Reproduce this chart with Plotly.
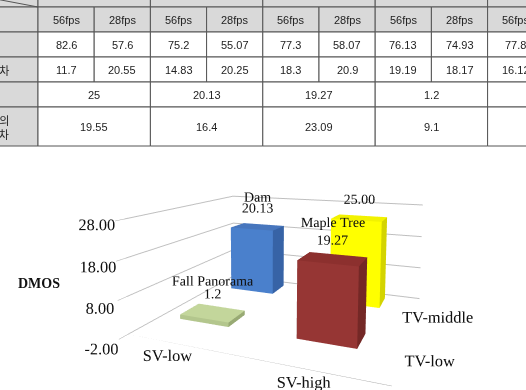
import math
import numpy as np
import plotly.graph_objects as go

# ---------------- data ----------------
fps_labels = ["56fps", "28fps", "56fps", "28fps", "56fps", "28fps", "56fps", "28fps", "56fps"]
mos_values = ["82.6", "57.6", "75.2", "55.07", "77.3", "58.07", "76.13", "74.93", "77.8"]
std_values = ["11.7", "20.55", "14.83", "20.25", "18.3", "20.9", "19.19", "18.17", "16.12"]
dmos_table = ["25", "20.13", "19.27", "1.2", ""]
dmos_std_table = ["19.55", "16.4", "23.09", "9.1", ""]
row_labels = ["", "", "표준편차", "", "DMOS의<br>표준편차"]

videos = ["Sunflower", "Dam", "Maple Tree", "Fall Panorama"]
dmos = [25.00, 20.13, 19.27, 1.2]
dmos_text = ["25.00", "20.13", "19.27", "1.2"]
sv_level = [1, 0, 1, 0]          # 0 = SV-low, 1 = SV-high
tv_level = [1, 1, 0, 0]          # 0 = TV-low, 1 = TV-middle
sv_labels = ["SV-low", "SV-high"]
tv_labels = ["TV-low", "TV-middle"]
z_ticks = [-2, 8, 18, 28]

# ---------------- styles ----------------
bar_colors = {  # front, side, top
    "Sunflower": ("#ffff00", "#d4d400", "#f2f200"),
    "Dam": ("#4a80cc", "#3763a6", "#4776bd"),
    "Maple Tree": ("#963634", "#742826", "#8c302e"),
    "Fall Panorama": ("#b3c68d", "#98aa74", "#c3d69b"),
}
HEADER_BG = "#d9d9d9"
LINE_C = "#555555"
TXT_C = "#222222"
SANS = "Liberation Sans, Arial, sans-serif"
SERIF = "Liberation Serif, Times New Roman, serif"
CJK = "Noto Sans CJK KR, Liberation Sans, sans-serif"

W, H = 526, 390
COLW = 56.2
LEFT = 38.0
TABLE_PX = 150
ROW_EDGES = [-18, 7, 32, 57, 82, 107, 146]

fig = go.Figure()

xr = [-LEFT / COLW, (W - LEFT) / COLW]
fig.update_layout(
    xaxis=dict(domain=[0, 1], range=xr, visible=False, fixedrange=True),
    yaxis=dict(domain=[1 - TABLE_PX / H, 1], range=[TABLE_PX, 0], visible=False, fixedrange=True),
)
shapes = []
annos = []
LABEL_X0 = -2.4


def cell(x0, x1, y0, y1, fill):
    shapes.append(dict(type="rect", xref="x", yref="y", x0=x0, x1=x1, y0=y0, y1=y1,
                       fillcolor=fill, line=dict(color=LINE_C, width=1), layer="below"))


def ctext(xc, yc, t, font=SANS, xanchor="center"):
    annos.append(dict(xref="x", yref="y", x=xc, y=yc, text=t, showarrow=False, xanchor=xanchor,
                      align="center", font=dict(family=font, size=11, color=TXT_C)))


n = len(fps_labels)
ngroups = len(dmos_table)
for r in range(len(ROW_EDGES) - 1):
    cell(LABEL_X0, 0, ROW_EDGES[r], ROW_EDGES[r + 1], HEADER_BG)
for g in range(ngroups):
    cell(2 * g, 2 * g + 2, ROW_EDGES[0], ROW_EDGES[1], HEADER_BG)
for i in range(n):
    cell(i, i + 1, ROW_EDGES[1], ROW_EDGES[2], HEADER_BG)
    ctext(i + 0.5, (ROW_EDGES[1] + ROW_EDGES[2]) / 2, fps_labels[i])
    cell(i, i + 1, ROW_EDGES[2], ROW_EDGES[3], "white")
    ctext(i + 0.5, (ROW_EDGES[2] + ROW_EDGES[3]) / 2, mos_values[i])
    cell(i, i + 1, ROW_EDGES[3], ROW_EDGES[4], "white")
    ctext(i + 0.5, (ROW_EDGES[3] + ROW_EDGES[4]) / 2, std_values[i])
for g in range(ngroups):
    cell(2 * g, 2 * g + 2, ROW_EDGES[4], ROW_EDGES[5], "white")
    ctext(2 * g + 1, (ROW_EDGES[4] + ROW_EDGES[5]) / 2, dmos_table[g])
    cell(2 * g, 2 * g + 2, ROW_EDGES[5], ROW_EDGES[6], "white")
    ctext(2 * g + 1, (ROW_EDGES[5] + ROW_EDGES[6]) / 2, dmos_std_table[g])
LABEL_RIGHT = (11 - LEFT) / COLW
for r, lab in enumerate(row_labels):
    if lab:
        ctext(LABEL_RIGHT, (ROW_EDGES[r + 1] + ROW_EDGES[r + 2]) / 2, lab, CJK, xanchor="right")
shapes.append(dict(type="line", xref="x", yref="y", x0=-2.35, y0=ROW_EDGES[0], x1=0, y1=ROW_EDGES[1],
                   line=dict(color=LINE_C, width=1)))

# ---------------- 3D scene geometry / camera calibration ----------------
ZMIN, ZMAX = z_ticks[0], z_ticks[-1]
XR, YR = (-0.5, 1.5), (-0.5, 1.5)
AX = 0.817
FOCAL = (H / 2) / math.tan(math.pi / 8)   # plotly gl3d uses fovy = 45 deg
PP = (W / 2, H / 2)
# scene anchor points: (x, sign*hw, y, sign*hd, z) -> pixel position they should land on
CAL = [
    ((-0.5, 0, -0.5, 0, -2), (128, 336)), ((-0.5, 0, -0.5, 0, 28), (128, 223)),
    ((1.5, 0, -0.5, 0, -2), (383, 372)), ((1.5, 0, 1.5, 0, -2), (430, 288)),
    ((1.5, 0, 1.5, 0, 28), (430, 199)), ((-0.5, 0, 1.5, 0, 28), (228, 192)),
    ((1, -1, 0, -1, dmos[2]), (298, 265)), ((1, -1, 0, -1, 0), (298, 339)), ((1, 1, 0, -1, 0), (353, 346)),
    ((0, -1, 1, -1, dmos[1]), (230, 228)), ((0, 1, 1, -1, dmos[1]), (272, 230)), ((0, -1, 1, -1, 0), (230, 293)),
    ((1, -1, 1, -1, dmos[0]), (335, 218)), ((1, 1, 1, -1, dmos[0]), (383, 220)),
    ((0, -1, 0, -1, dmos[3]), (180, 327)), ((0, 1, 0, -1, dmos[3]), (233, 331)), ((0, -1, 0, 1, dmos[3]), (190, 309)),
]
cal_src = np.array([c[0] for c in CAL], dtype=float)
cal_dst = np.array([c[1] for c in CAL], dtype=float)


def to_scene(x, y, z, ay, az):
    return np.stack([(x - sum(XR) / 2) / (XR[1] - XR[0]) * AX,
                     (y - sum(YR) / 2) / (YR[1] - YR[0]) * ay,
                     (z - (ZMIN + ZMAX) / 2) / (ZMAX - ZMIN) * az], axis=-1)


def view_dir(yaw, pitch):
    return np.array([-math.sin(yaw) * math.cos(pitch), math.cos(yaw) * math.cos(pitch), -math.sin(pitch)])


def project(p):
    ex, ey, ez, yaw, pitch, ay, az, hw, hd = p
    x = cal_src[:, 0] + cal_src[:, 1] * hw
    y = cal_src[:, 2] + cal_src[:, 3] * hd
    pts = to_scene(x, y, cal_src[:, 4], ay, az)
    d = view_dir(yaw, pitch)
    rr = np.array([math.cos(yaw), math.sin(yaw), 0.0])
    uu = np.cross(rr, d)
    rel = pts - np.array([ex, ey, ez])
    zc = rel @ d
    return np.stack([PP[0] + FOCAL * (rel @ rr) / zc, PP[1] - FOCAL * (rel @ uu) / zc], axis=-1)


def resid(p):
    return (project(p) - cal_dst).ravel()


p = np.array([0.62, -1.50, 0.58, math.radians(23.0), math.radians(12.5), 0.667, 0.377, 0.225, 0.275])
lam = 1e-2
for _ in range(300):
    r0 = resid(p)
    J = np.empty((r0.size, p.size))
    for k in range(p.size):
        dp = np.zeros_like(p); dp[k] = 1e-6
        J[:, k] = (resid(p + dp) - r0) / 1e-6
    A = J.T @ J
    g = J.T @ r0
    step = np.linalg.solve(A + lam * np.diag(np.diag(A) + 1e-9), -g)
    if np.sum(resid(p + step) ** 2) < np.sum(r0 ** 2):
        p = p + step
        lam = max(lam * 0.3, 1e-7)
    else:
        lam *= 10
ex, ey, ez, yaw, pitch, AY, AZ, HW, HD = [float(v) for v in p]
dv = view_dir(yaw, pitch)
eye = dict(x=ex, y=ey, z=ez)
look = dict(x=ex + dv[0], y=ey + dv[1], z=ez + dv[2])


# ---------------- 3D bar chart ----------------
def add_bar(name, xc, yc, z0, z1):
    front, side, top = bar_colors[name]
    xs = [xc - HW, xc + HW]
    ys = [yc - HD, yc + HD]
    zs = [z0, z1]
    X, Y, Z = [], [], []
    for k in range(2):
        for j in range(2):
            for i in range(2):
                X.append(xs[i]); Y.append(ys[j]); Z.append(zs[k])
    tri = [
        ((0, 1, 3), side), ((0, 3, 2), side),
        ((4, 5, 7), top), ((4, 7, 6), top),
        ((0, 1, 5), front), ((0, 5, 4), front),
        ((2, 3, 7), side), ((2, 7, 6), side),
        ((0, 2, 6), side), ((0, 6, 4), side),
        ((1, 3, 7), side), ((1, 7, 5), side),
    ]
    fig.add_trace(go.Mesh3d(
        x=X, y=Y, z=Z,
        i=[t[0][0] for t in tri], j=[t[0][1] for t in tri], k=[t[0][2] for t in tri],
        facecolor=[t[1] for t in tri], flatshading=True,
        lighting=dict(ambient=1, diffuse=0, specular=0, roughness=1, fresnel=0),
        hoverinfo="skip", showscale=False, name=name))


for name, v, sx, ty in zip(videos, dmos, sv_level, tv_level):
    add_bar(name, sx, ty, 0, v)

FT = 0.9
fx = [XR[0], XR[1], XR[1], XR[1], XR[1], XR[0], XR[0], None, XR[0], XR[1], XR[1]]
fy = [YR[0], YR[0], YR[1], YR[1], YR[0], YR[0], YR[0], None, YR[0], YR[0], YR[1]]
fz = [ZMIN, ZMIN, ZMIN, ZMIN - FT, ZMIN - FT, ZMIN - FT, ZMIN, None, ZMIN, ZMIN, ZMIN]
fig.add_trace(go.Scatter3d(x=fx, y=fy, z=fz, mode="lines", line=dict(color="#a6a6a6", width=1),
                           hoverinfo="skip", showlegend=False))

LABEL_GAP = 3.6
fig.add_trace(go.Scatter3d(
    x=sv_level, y=tv_level, z=dmos, mode="text", text=dmos_text, textposition="top center",
    textfont=dict(family=SERIF, size=14, color="#111111"), hoverinfo="skip", showlegend=False))
fig.add_trace(go.Scatter3d(
    x=sv_level, y=tv_level, z=[v + LABEL_GAP for v in dmos], mode="text", text=videos,
    textposition="top center",
    textfont=dict(family=SERIF, size=14, color="#111111"), hoverinfo="skip", showlegend=False))

axis_common = dict(showbackground=False, showspikes=False, title=dict(text=""), tickangle=0,
                   tickfont=dict(family=SERIF, size=14, color="#111111"),
                   showline=False, zeroline=False)
fig.update_layout(
    scene=dict(
        domain=dict(x=[0, 1], y=[0, 1]),
        xaxis=dict(range=list(XR), tickvals=[0, 1], ticktext=sv_labels, showgrid=False, **axis_common),
        yaxis=dict(range=list(YR), tickvals=[0, 1], ticktext=tv_labels, showgrid=False, **axis_common),
        zaxis=dict(range=[ZMIN, ZMAX], tickvals=z_ticks, ticktext=[f"{v:.2f}" for v in z_ticks],
                   showgrid=True, gridcolor="#bfbfbf", ticks="outside", tickcolor="#a6a6a6", **axis_common),
        aspectmode="manual", aspectratio=dict(x=AX, y=AY, z=AZ),
        camera=dict(eye=eye, center=look, projection=dict(type="perspective")),
        bgcolor="rgba(0,0,0,0)",
    ),
    showlegend=False,
)

annos.append(dict(xref="paper", yref="paper", x=39 / W, y=1 - 283 / H, text="<b>DMOS</b>",
                  xanchor="center", yanchor="middle",
                  showarrow=False, font=dict(family=SERIF, size=14, color="#111111")))

fig.update_layout(width=W, height=H, margin=dict(l=0, r=0, t=0, b=0),
                  paper_bgcolor="white", plot_bgcolor="white",
                  shapes=shapes, annotations=annos)

fig.write_html("out.html")
